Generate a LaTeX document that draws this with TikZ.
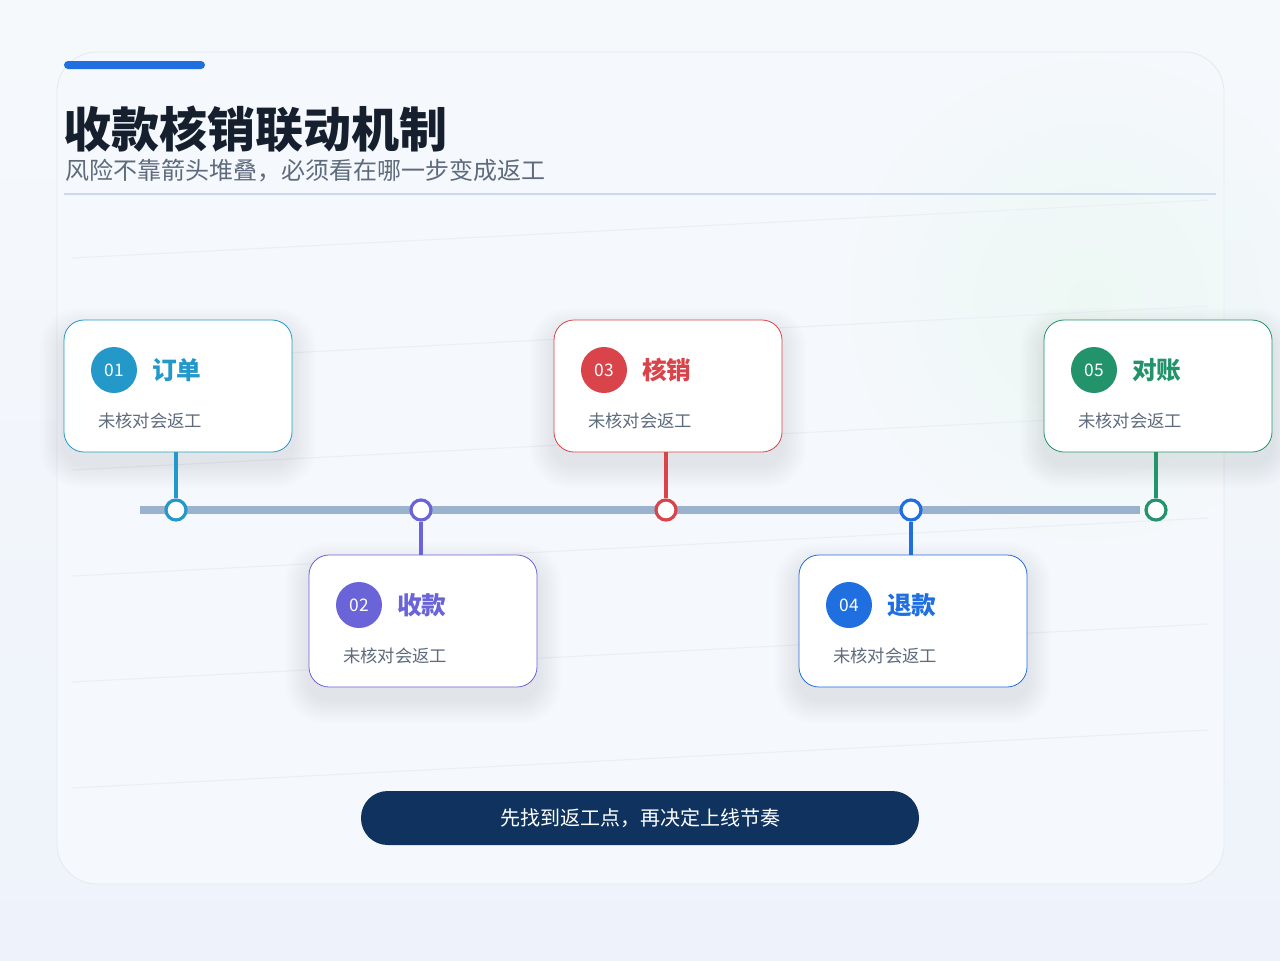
\documentclass[tikz,border=0pt]{standalone}
\usepackage{fontspec}
\setmainfont{Noto Sans CJK SC}
\newfontfamily\cjk{Noto Sans CJK SC}
\usetikzlibrary{fadings}
\tikzfading[name=myglow, inner color=transparent!0, outer color=transparent!100]
\definecolor{bgtop}{HTML}{F6F9FC}
\definecolor{bgbot}{HTML}{EEF3FB}
\definecolor{panel}{HTML}{F5F8FC}
\definecolor{panelline}{HTML}{E3EAF3}
\definecolor{accent}{HTML}{1F6FE0}
\definecolor{titlec}{HTML}{151F2E}
\definecolor{subc}{HTML}{5E6B7D}
\definecolor{sepc}{HTML}{C9DAEE}
\definecolor{faint}{HTML}{EAEFF6}
\definecolor{linec}{HTML}{9BB2CE}
\definecolor{pillc}{HTML}{0F335E}
\definecolor{cA}{HTML}{2499C9}
\definecolor{cB}{HTML}{6A64D8}
\definecolor{cC}{HTML}{D9444A}
\definecolor{cD}{HTML}{1F6FE0}
\definecolor{cE}{HTML}{23936B}
\definecolor{glow}{HTML}{EAF8F1}
\definecolor{shadowc}{HTML}{2A3F66}
\tikzset{
  cardbox/.style={draw=#1, line width=0.6pt, fill=white, rounded corners=15pt,
    minimum width=171pt, minimum height=99pt, inner sep=0pt},
  badge/.style={circle, fill=#1, minimum size=34.5pt, inner sep=0pt, text=white,
    font=\fontsize{13pt}{13pt}\selectfont},
  cardtitle/.style={anchor=base west, inner sep=0pt, text=#1,
    font=\fontsize{18.5pt}{18.5pt}\selectfont\bfseries},
  cardsub/.style={anchor=base west, inner sep=0pt, text=subc,
    font=\fontsize{13pt}{13pt}\selectfont},
  dotnode/.style={circle, draw=#1, line width=2.4pt, fill=white, minimum size=15pt, inner sep=0pt},
  stem/.style={draw=#1, line width=2.6pt},
  shadowlayer/.style={fill=shadowc, opacity=0.008},
}
\newcommand{\mycard}[6]{% name, x0, y0, color, num, title
  \foreach \k in {1,...,10} {
    \fill[shadowlayer, rounded corners=15pt+1.5*\k pt]
      (#2-2.4*\k, #3+12-2.4*\k) rectangle (#2+228+2.4*\k, #3+144+2.4*\k);
  }
  \node[cardbox=#4] (#1) at (#2+114,#3+66) {};
  \node[badge=#4] (#1n) at (#2+50,#3+50) {#5};
  \node[cardtitle=#4] (#1t) at (#2+88,#3+59) {#6};
  \node[cardsub] (#1s) at (#2+34,#3+107) {未核对会返工};
}
\begin{document}
\begin{tikzpicture}[x=0.75pt,y=-0.75pt]
\useasboundingbox (0,0) rectangle (1280,960);
\shade[top color=bgtop, bottom color=bgbot] (0,0) rectangle (1280,960);
% panel
\draw[panelline, fill=panel, line width=0.6pt, rounded corners=30pt] (57,52) rectangle (1224,884);
\fill[glow, path fading=myglow, opacity=0.7] (1090,300) circle (240);
% faint diagonal lines
\foreach \yy in {258,364,470,576,682,788} {
  \draw[faint, line width=0.8pt] (72,\yy) -- (1208,\yy-58);
}
% header
\fill[accent, rounded corners=3pt] (64,61) rectangle (205,69);
\node[anchor=base west, inner sep=0pt, text=titlec, font=\fontsize{36pt}{36pt}\selectfont\bfseries] (title) at (63,147) {收款核销联动机制};
\node[anchor=base west, inner sep=0pt, text=subc, font=\fontsize{18pt}{18pt}\selectfont] (subtitle) at (65,179) {风险不靠箭头堆叠，必须看在哪一步变成返工};
\draw[sepc, line width=1.5pt] (64,194) -- (1216,194);
% timeline
\coordinate (tl) at (140,510);
\coordinate (tr) at (1140,510);
\draw[linec, line width=6pt] (tl) -- (tr);
% cards
\mycard{c1}{64}{320}{cA}{01}{订单}
\mycard{c2}{309}{555}{cB}{02}{收款}
\mycard{c3}{554}{320}{cC}{03}{核销}
\mycard{c4}{799}{555}{cD}{04}{退款}
\mycard{c5}{1044}{320}{cE}{05}{对账}
% dots
\node[dotnode=cA] (d1) at (176,510) {};
\node[dotnode=cB] (d2) at (421,510) {};
\node[dotnode=cC] (d3) at (666,510) {};
\node[dotnode=cD] (d4) at (911,510) {};
\node[dotnode=cE] (d5) at (1156,510) {};
% stems
\draw[stem=cA] (d1.north) -- (d1.north |- c1.south);
\draw[stem=cB] (d2.south) -- (d2.south |- c2.north);
\draw[stem=cC] (d3.north) -- (d3.north |- c3.south);
\draw[stem=cD] (d4.south) -- (d4.south |- c4.north);
\draw[stem=cE] (d5.north) -- (d5.north |- c5.south);
% pill
\node[fill=pillc, rounded corners=20pt, minimum width=418.5pt, minimum height=40.5pt, inner sep=0pt,
  text=white, font=\fontsize{15pt}{15pt}\selectfont] (pill) at (640,818) {先找到返工点，再决定上线节奏};
\end{tikzpicture}
\end{document}
